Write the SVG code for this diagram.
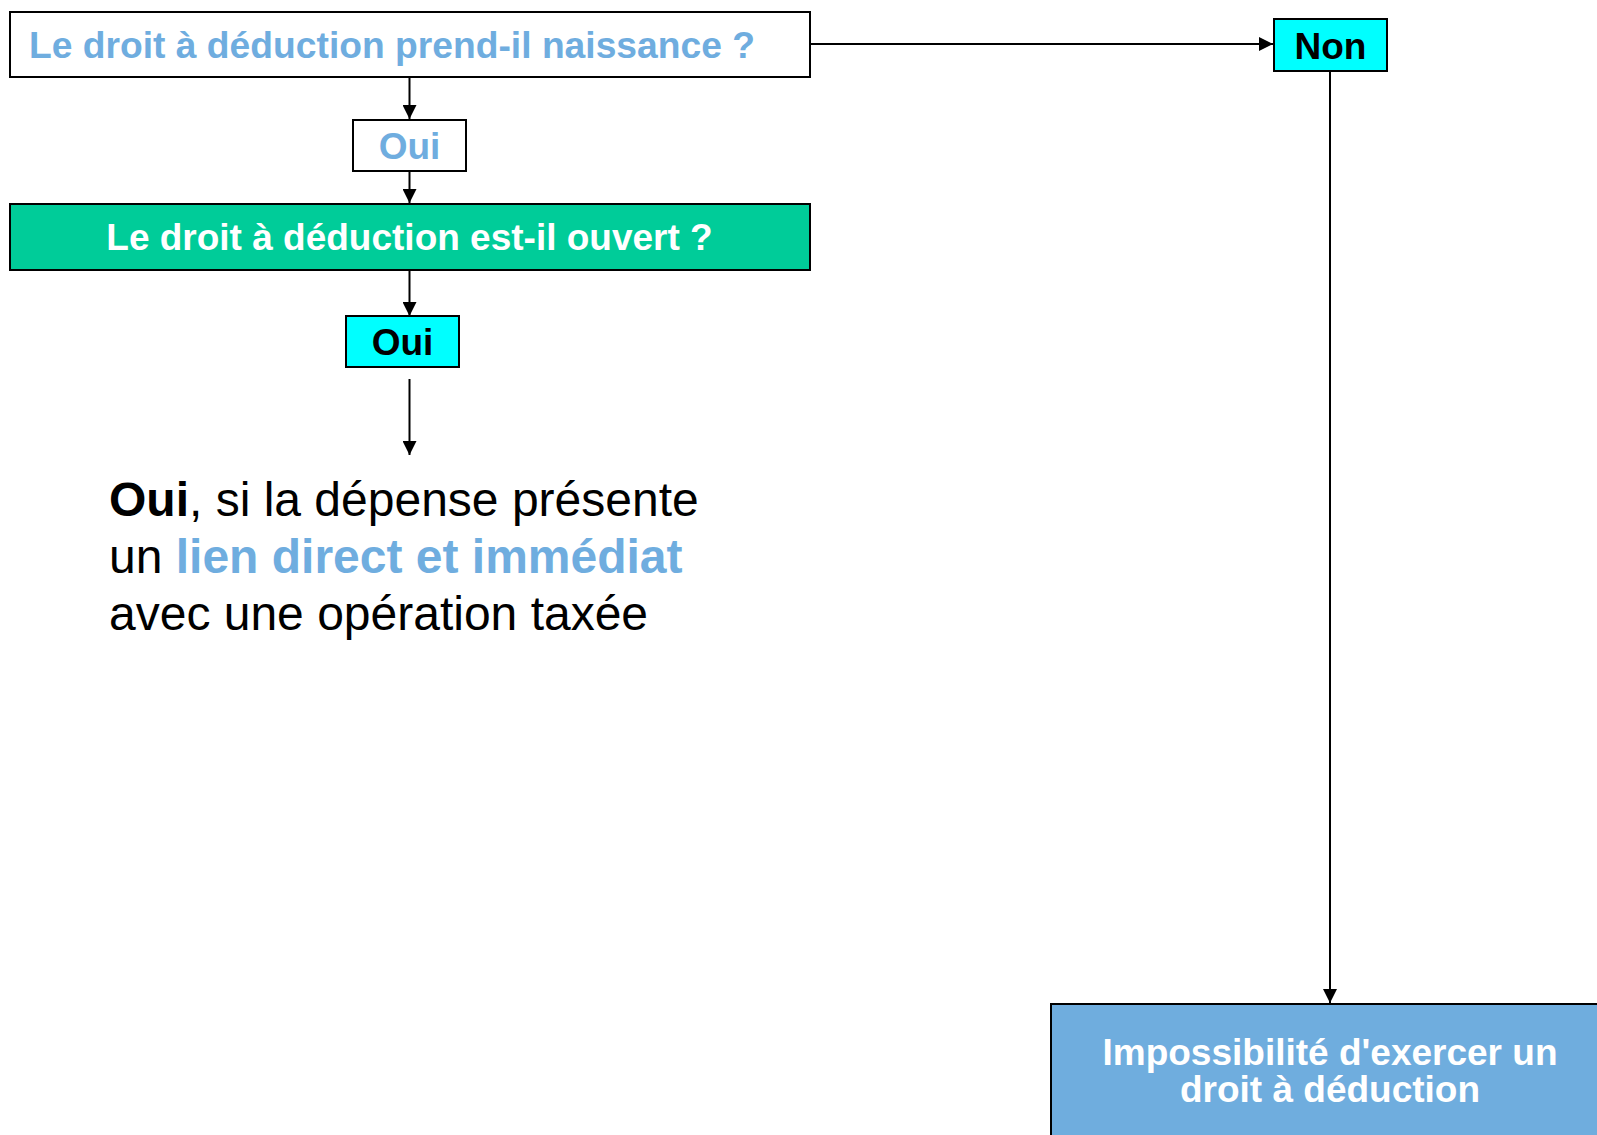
<svg xmlns="http://www.w3.org/2000/svg" width="1597" height="1135" viewBox="0 0 1597 1135">
  <style>
    .box { stroke: #000; stroke-width: 2; }
    .t { font-family: "Liberation Sans", Arial, sans-serif; font-weight: bold; font-size: 37px; text-anchor: middle; }
    .conn { stroke: #000; stroke-width: 2; fill: none; }
    .body { font-family: "Liberation Sans", Arial, sans-serif; font-size: 48px; fill: #000; }
  </style>
  <defs>
    <marker id="arr" markerUnits="userSpaceOnUse" markerWidth="14" markerHeight="14" refX="14" refY="7" orient="auto">
      <path d="M0,0 L14,7 L0,14 z" fill="#000"/>
    </marker>
  </defs>
  <rect width="1597" height="1135" fill="#fff"/>

  <g id="connectors">
    <path class="conn" d="M810,44 H1273" marker-end="url(#arr)"/>
    <path class="conn" d="M409.5,77 V119" marker-end="url(#arr)"/>
    <path class="conn" d="M409.5,171 V203" marker-end="url(#arr)"/>
    <path class="conn" d="M409.5,270 V316" marker-end="url(#arr)"/>
    <path class="conn" d="M409.5,379 V455" marker-end="url(#arr)"/>
    <path class="conn" d="M1330,71 V1003" marker-end="url(#arr)"/>
  </g>

  <g id="q1">
    <rect class="box" x="10" y="12" width="800" height="65" fill="#fff"/>
    <text class="t" x="392" y="58" fill="#6FADDF" textLength="726" lengthAdjust="spacingAndGlyphs">Le droit à déduction prend-il naissance ?</text>
  </g>

  <g id="oui1">
    <rect class="box" x="353" y="120" width="113" height="51" fill="#fff"/>
    <text class="t" x="409.5" y="159" fill="#6FADDF">Oui</text>
  </g>

  <g id="q2">
    <rect class="box" x="10" y="204" width="800" height="66" fill="#00CC99"/>
    <text class="t" x="409.5" y="250" fill="#fff">Le droit à déduction est-il ouvert ?</text>
  </g>

  <g id="oui2">
    <rect class="box" x="346" y="316" width="113" height="51" fill="#00FFFF"/>
    <text class="t" x="402.5" y="355" fill="#000">Oui</text>
  </g>

  <g id="explication">
    <text class="body" x="109" y="516"><tspan font-weight="bold">Oui</tspan>, si la dépense présente</text>
    <text class="body" x="109" y="573">un <tspan font-weight="bold" fill="#6FADDF">lien direct et immédiat</tspan></text>
    <text class="body" x="109" y="630">avec une opération taxée</text>
  </g>

  <g id="non">
    <rect class="box" x="1274" y="19" width="113" height="52" fill="#00FFFF"/>
    <text class="t" x="1330.5" y="59" fill="#000">Non</text>
  </g>

  <g id="impossibilite">
    <rect class="box" x="1051" y="1004" width="560" height="145" fill="#6FADDE"/>
    <text class="t" x="1330" y="1065" fill="#fff">Impossibilité d'exercer un</text>
    <text class="t" x="1330" y="1102" fill="#fff">droit à déduction</text>
  </g>
</svg>
